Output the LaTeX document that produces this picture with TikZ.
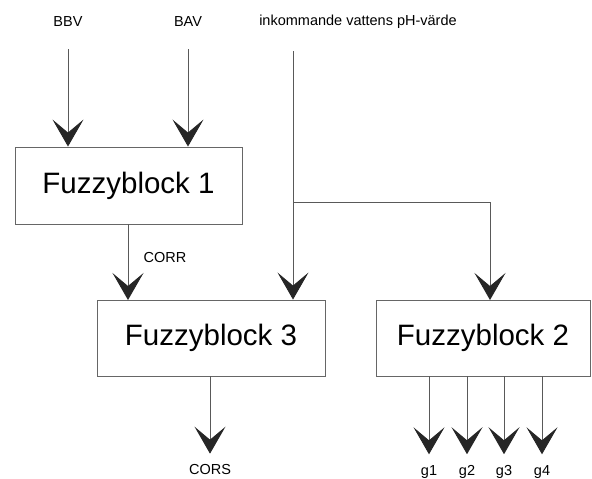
\documentclass[tikz,border=0pt]{standalone}
\usepackage{fontspec}
\setmainfont{Liberation Sans}
\usetikzlibrary{arrows.meta}

\begin{document}
\begin{tikzpicture}[x=1pt,y=-1pt,
  block/.style={draw=black!60,line width=0.9pt,inner sep=0pt,font=\fontsize{29.5}{32}\selectfont},
  lbl/.style={inner sep=0pt,font=\fontsize{14.5}{16}\selectfont},
  sig/.style={draw=black!65,line width=0.9pt,-{Stealth[length=27pt,width=31pt,inset=13pt,color=black!85]}},
  wire/.style={draw=black!65,line width=0.9pt}]
\useasboundingbox (0,0) rectangle (592,479);

% blocks
\node[block,minimum width=227pt,minimum height=77pt] (fb1) at (128.5,185.5) {Fuzzyblock 1};
\node[block,minimum width=228pt,minimum height=76pt] (fb3) at (211,338) {Fuzzyblock 3};
\node[block,minimum width=214pt,minimum height=76pt] (fb2) at (483,338) {Fuzzyblock 2};

% inputs
\node[lbl] (bbv) at (68,22) {BBV};
\node[lbl] (bav) at (188,22) {BAV};
\node[lbl] (ph) at (358,22) {inkommande vattens pH-v\"arde};
\coordinate (ph-in) at (293,51);
\coordinate (ph-split) at (293,202);

\draw[sig,shorten <=22pt] (bbv.south) -- (bbv.south |- fb1.north);
\draw[sig,shorten <=22pt] (bav.south) -- (bav.south |- fb1.north);
\draw[sig] (ph-in) -- (ph-in |- fb3.north);
\draw[sig] (ph-split) -| (490,300);

% fb1 -> fb3
\draw[sig] (fb1.south -| 128,0) -- (128,300);
\node[lbl] (corr) at (165,258) {CORR};

% outputs
\node[lbl] (cors) at (210,470) {CORS};
\draw[sig,shorten >=11pt] (fb3.south -| cors) -- (cors.north);
\foreach \x/\n in {429/1,467/2,504/3,542/4}{
  \node[lbl] (g\n) at (\x,472) {g\n};
  \draw[sig,shorten >=11pt] (fb2.south -| g\n) -- (g\n.north);
}
\end{tikzpicture}
\end{document}
